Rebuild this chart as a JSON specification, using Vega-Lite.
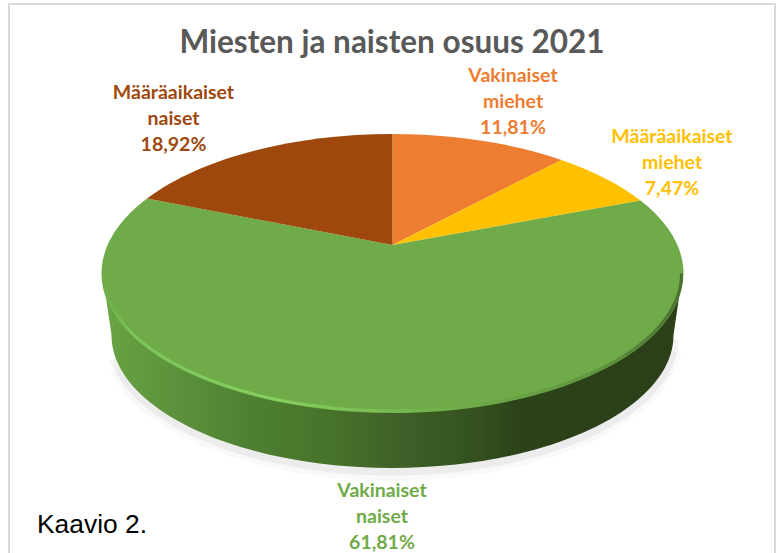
{
"$schema":"https://vega.github.io/schema/vega-lite/v6.json",
"width":780,"height":553,"padding":0,"autosize":{"type":"none"},
"background":"white",
"config":{"view":{"stroke":null}},
"datasets":{
"slices":[
{"category":"Vakinaiset miehet","share":11.81,"text":"Vakinaiset\nmiehet\n11,81%"},
{"category":"Määräaikaiset miehet","share":7.47,"text":"Määräaikaiset\nmiehet\n7,47%"},
{"category":"Vakinaiset naiset","share":61.81,"text":"Vakinaiset\nnaiset\n61,81%"},
{"category":"Määräaikaiset naiset","share":18.92,"text":"Määräaikaiset\nnaiset\n18,92%"}
]},
"data":{"name":"slices"},
"resolve":{"scale":{"color":"shared","shape":"independent"}},
"encoding":{
 "x":{"datum":392.5,"type":"quantitative","scale":{"domain":[0,780],"range":[0,780],"nice":false,"zero":false},"axis":null},
 "y":{"datum":273.5,"type":"quantitative","scale":{"domain":[0,553],"range":[0,553],"nice":false,"zero":false},"axis":null}},
"layer":[
{"transform":[{"filter":"datum.share > 50"}],
 "mark":{"type":"point","filled":false,"opacity":1,"fill":"transparent","stroke":"#000000","strokeOpacity":0.025,"strokeWidth":16,"size":4,"shape":"M-275 95 A283 137 0 0 0 281 78"}},
{"transform":[{"filter":"datum.share > 50"}],
 "mark":{"type":"point","filled":false,"opacity":1,"fill":"transparent","stroke":"#000000","strokeOpacity":0.05,"strokeWidth":9,"size":4,"shape":"M-278 85 A282 135 0 0 0 282 66"}},
{"transform":[{"filter":"datum.share > 50"}],
 "mark":{"type":"point","filled":true,"opacity":1,"strokeWidth":0,"size":4,"shape":"M-290 0 L-281 61.5 A281 133 0 0 0 281 61.5 L290 0 Z",
  "fill":{"gradient":"linear","x1":0,"y1":0,"x2":1,"y2":0,"stops":[{"offset":0,"color":"#6aa544"},{"offset":0.1,"color":"#5e953d"},{"offset":0.255,"color":"#4e8033"},{"offset":0.4,"color":"#477229"},{"offset":0.51,"color":"#3f6128"},{"offset":0.65,"color":"#33501e"},{"offset":0.72,"color":"#2c4219"},{"offset":1,"color":"#2b3f18"}]}}},
{"mark":{"type":"point","filled":true,"opacity":1,"strokeWidth":0,"size":4},
 "encoding":{
 "color":{"field":"category","type":"nominal","legend":null,"scale":{"domain":["Vakinaiset miehet","Määräaikaiset miehet","Vakinaiset naiset","Määräaikaiset naiset"],"range":["#ED7D31","#FFC000","#6FAB48","#9E480E"]}},
 "shape":{"field":"category","type":"nominal","legend":null,"scale":{"domain":["Vakinaiset miehet","Määräaikaiset miehet","Vakinaiset naiset","Määräaikaiset naiset"],"range":[
  "M0 -28.5 L0 -139.5 A291 139.5 0 0 1 169 -113.6 Z",
  "M0 -28.5 L169 -113.6 A291 139.5 0 0 1 248 -73 Z",
  "M0 -28.5 L248 -73 A291 139.5 0 1 1 -245.5 -74.9 Z",
  "M0 -28.5 L-245.5 -74.9 A291 139.5 0 0 1 0 -139.5 Z"]}}}},
{"transform":[{"filter":"datum.share > 50"}],
 "mark":{"type":"point","filled":false,"opacity":1,"fill":"transparent","strokeWidth":3,"size":4,"shape":"M-289 0 A289 137.5 0 0 0 289 0",
  "stroke":{"gradient":"linear","x1":0,"y1":0,"x2":1,"y2":0,"stops":[{"offset":0,"color":"#70AD47"},{"offset":0.05,"color":"#7cc55a"},{"offset":0.3,"color":"#86cf60"},{"offset":0.5,"color":"#78bb52"},{"offset":0.62,"color":"#6FAB48"},{"offset":0.85,"color":"#5f9440"},{"offset":1,"color":"#4a7030"}]}}},
{"transform":[{"filter":"datum.category == 'Vakinaiset miehet'"}],
 "mark":{"type":"text","font":"Lato","fontWeight":"bold","fontSize":19.5,"lineBreak":"\n","lineHeight":26,"align":"center","baseline":"middle"},
 "encoding":{"text":{"field":"text"},"color":{"field":"category","type":"nominal","legend":null},"x":{"datum":513},"y":{"datum":76}}},
{"transform":[{"filter":"datum.category == 'Määräaikaiset miehet'"}],
 "mark":{"type":"text","font":"Lato","fontWeight":"bold","fontSize":19.5,"lineBreak":"\n","lineHeight":26,"align":"center","baseline":"middle"},
 "encoding":{"text":{"field":"text"},"color":{"field":"category","type":"nominal","legend":null},"x":{"datum":672},"y":{"datum":137}}},
{"transform":[{"filter":"datum.category == 'Vakinaiset naiset'"}],
 "mark":{"type":"text","font":"Lato","fontWeight":"bold","fontSize":19.5,"lineBreak":"\n","lineHeight":26,"align":"center","baseline":"middle"},
 "encoding":{"text":{"field":"text"},"color":{"field":"category","type":"nominal","legend":null},"x":{"datum":382},"y":{"datum":491}}},
{"transform":[{"filter":"datum.category == 'Määräaikaiset naiset'"}],
 "mark":{"type":"text","font":"Lato","fontWeight":"bold","fontSize":19.5,"lineBreak":"\n","lineHeight":26,"align":"center","baseline":"middle"},
 "encoding":{"text":{"field":"text"},"color":{"field":"category","type":"nominal","legend":null},"x":{"datum":173.5},"y":{"datum":93}}},
{"data":{"values":[{"t":"Miesten ja naisten osuus 2021"}]},
 "mark":{"type":"text","font":"Lato","fontWeight":"bold","fontSize":31.5,"color":"#595959","align":"center","baseline":"middle"},
 "encoding":{"text":{"field":"t"},"x":{"datum":392},"y":{"datum":44}}},
{"data":{"values":[{"t":"Kaavio 2."}]},
 "mark":{"type":"text","font":"Liberation Sans","fontSize":26.4,"color":"#000000","align":"left","baseline":"alphabetic"},
 "encoding":{"text":{"field":"t"},"x":{"datum":37},"y":{"datum":533}}},
{"data":{"values":[{"t":"frame"}]},
 "mark":{"type":"rect","fill":null,"stroke":"#D9D9D9","strokeWidth":2},
 "encoding":{
 "x":{"datum":9},
 "x2":{"datum":775},
 "y":{"datum":4},
 "y2":{"datum":570}}}
]}
